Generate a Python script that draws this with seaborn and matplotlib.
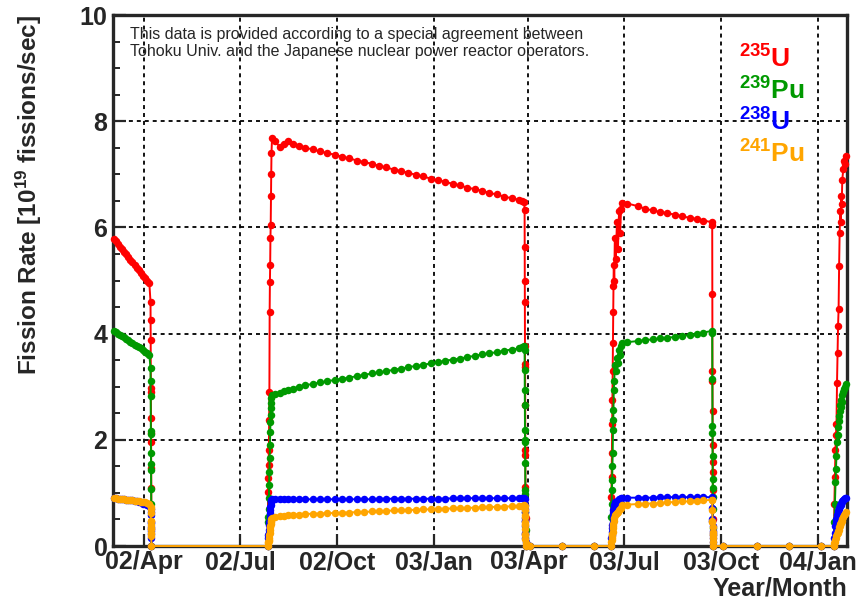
import matplotlib
matplotlib.use('Agg')
import matplotlib.pyplot as plt
import matplotlib.dates as mdates
from matplotlib.ticker import AutoMinorLocator, MultipleLocator
import pandas as pd
import seaborn as sns

# Fission rates per isotope [10^19 fissions/sec]
# cycle 1 (end of run), shutdown, cycle 2 startup / run / shutdown,
# zero readings, cycle 3, zero readings, cycle 4 startup
dates = [
    # cycle 1
    '2002-03-03', '2002-03-05', '2002-03-07', '2002-03-09', '2002-03-11', '2002-03-13',
    '2002-03-15', '2002-03-17', '2002-03-19', '2002-03-21', '2002-03-23', '2002-03-25',
    '2002-03-27', '2002-03-29', '2002-03-31', '2002-04-02', '2002-04-04', '2002-04-06',
    # shutdown 1
    '2002-04-07 03:00', '2002-04-07 05:00', '2002-04-07 07:00', '2002-04-07 09:00',
    '2002-04-07 11:00', '2002-04-07 13:00', '2002-04-07 15:00', '2002-04-07 17:00',
    '2002-04-07 19:00', '2002-04-07 21:00', '2002-04-08 00:00',
    # startup 2
    '2002-07-27 12:00', '2002-07-27 18:00', '2002-07-28 00:00', '2002-07-28 06:00',
    '2002-07-28 12:00', '2002-07-28 18:00', '2002-07-29 00:00', '2002-07-29 06:00',
    '2002-07-29 12:00', '2002-07-29 18:00', '2002-07-30 00:00', '2002-07-30 06:00',
    '2002-07-30 12:00', '2002-07-30 18:00', '2002-07-31 00:00', '2002-07-31 12:00',
    '2002-08-03', '2002-08-08', '2002-08-12', '2002-08-16', '2002-08-20', '2002-08-26',
    # cycle 2 run
    '2002-09-01', '2002-09-08', '2002-09-15', '2002-09-22', '2002-09-29', '2002-10-06',
    '2002-10-13', '2002-10-20', '2002-10-27', '2002-11-03', '2002-11-10', '2002-11-17',
    '2002-11-24', '2002-12-01', '2002-12-08', '2002-12-15', '2002-12-22', '2002-12-29',
    '2003-01-05', '2003-01-12', '2003-01-19', '2003-01-26', '2003-02-02', '2003-02-09',
    '2003-02-16', '2003-02-23', '2003-03-02', '2003-03-09', '2003-03-16', '2003-03-23',
    '2003-03-26', '2003-03-28',
    # shutdown 2
    '2003-03-28 08:00', '2003-03-28 10:00', '2003-03-28 12:00', '2003-03-28 14:00',
    '2003-03-28 16:00', '2003-03-28 18:00', '2003-03-28 20:00', '2003-03-28 22:00',
    '2003-03-29 00:00', '2003-03-29 02:00', '2003-03-29 04:00', '2003-03-29 06:00',
    '2003-03-29 08:00',
    # off
    '2003-04-02', '2003-05-03', '2003-06-02',
    # startup 3
    '2003-06-18 12:00', '2003-06-18 18:00', '2003-06-19 00:00', '2003-06-19 06:00',
    '2003-06-19 12:00', '2003-06-19 18:00', '2003-06-20 00:00', '2003-06-20 06:00',
    '2003-06-20 12:00', '2003-06-20 18:00', '2003-06-21 00:00', '2003-06-21 12:00',
    '2003-06-22', '2003-06-23', '2003-06-24', '2003-06-25', '2003-06-26', '2003-06-27',
    '2003-06-28', '2003-06-29',
    # cycle 3 run
    '2003-07-04', '2003-07-14', '2003-07-21', '2003-07-28', '2003-08-04', '2003-08-11',
    '2003-08-18', '2003-08-25', '2003-09-01', '2003-09-08', '2003-09-14', '2003-09-22',
    # shutdown 3
    '2003-09-22 12:00', '2003-09-22 14:00', '2003-09-22 16:00', '2003-09-22 18:00',
    '2003-09-22 20:00', '2003-09-22 22:00', '2003-09-23 00:00', '2003-09-23 02:00',
    '2003-09-23 04:00', '2003-09-23 06:00', '2003-09-23 08:00',
    # off
    '2003-10-03', '2003-11-04', '2003-12-04', '2004-01-04',
    # startup 4
    '2004-01-16 00:00', '2004-01-16 12:00', '2004-01-17 00:00', '2004-01-17 12:00',
    '2004-01-18 00:00', '2004-01-18 12:00', '2004-01-19 00:00', '2004-01-19 12:00',
    '2004-01-20 00:00', '2004-01-20 12:00', '2004-01-21 00:00', '2004-01-21 12:00',
    '2004-01-22 00:00', '2004-01-22 12:00', '2004-01-23 00:00', '2004-01-23 12:00',
    '2004-01-24', '2004-01-25', '2004-01-26', '2004-01-27', '2004-01-28',
]

u235 = [
    5.78, 5.74, 5.69, 5.64, 5.59, 5.54, 5.49, 5.44, 5.39, 5.34, 5.29, 5.24,
    5.19, 5.14, 5.09, 5.04, 4.99, 4.95,
    4.60, 4.26, 3.88, 2.98, 2.90, 2.41, 2.13, 1.96, 1.47, 1.09, 0.00,
    0.00, 1.02, 1.28, 1.53, 1.80, 2.37, 2.90, 4.41, 4.98, 5.29, 5.80, 6.05,
    6.60, 7.00, 7.40, 7.68,
    7.62, 7.52, 7.58, 7.62, 7.58, 7.54,
    7.50, 7.47, 7.43, 7.40, 7.37, 7.33, 7.30, 7.26, 7.23, 7.20, 7.16, 7.13,
    7.09, 7.06, 7.03, 6.99, 6.96, 6.92, 6.89, 6.86, 6.82, 6.79, 6.75, 6.72,
    6.69, 6.65, 6.62, 6.58, 6.55, 6.52, 6.50, 6.48,
    6.33, 5.64, 5.00, 4.60, 3.76, 3.43, 3.37, 2.66, 1.81, 1.71, 1.12, 0.52, 0.00,
    0.00, 0.00, 0.00,
    0.00, 0.93, 1.30, 1.75, 2.30, 2.75, 3.29, 3.82, 4.40, 4.90, 5.30, 5.00,
    5.80, 5.40, 6.10, 5.60, 6.30, 5.90, 6.35, 6.46,
    6.45, 6.40, 6.35, 6.32, 6.29, 6.27, 6.24, 6.21, 6.18, 6.16, 6.13, 6.10,
    6.05, 4.74, 3.30, 3.10, 2.54, 1.90, 1.59, 1.40, 1.05, 0.50, 0.00,
    0.00, 0.00, 0.00, 0.00,
    0.00, 0.80, 1.30, 1.80, 2.10, 2.30, 3.07, 3.64, 4.15, 4.46, 5.28, 5.90,
    6.30, 6.10, 6.60, 6.45, 6.90, 7.10, 7.25, 7.20, 7.35,
]

pu239 = [
    4.05, 4.03, 4.00, 3.98, 3.95, 3.93, 3.90, 3.88, 3.85, 3.82, 3.79, 3.77,
    3.74, 3.72, 3.69, 3.66, 3.63, 3.60,
    3.35, 3.10, 2.82, 2.17, 2.11, 1.76, 1.55, 1.43, 1.07, 0.79, 0.00,
    0.00, 0.45, 0.55, 0.70, 0.90, 1.15, 1.40, 1.65, 1.90, 2.15, 2.34, 2.46,
    2.60, 2.70, 2.78, 2.84,
    2.86, 2.89, 2.92, 2.94, 2.96, 3.00,
    3.03, 3.05, 3.08, 3.10, 3.13, 3.15, 3.17, 3.20, 3.22, 3.25, 3.27, 3.29,
    3.32, 3.34, 3.37, 3.39, 3.41, 3.44, 3.46, 3.49, 3.51, 3.53, 3.56, 3.58,
    3.61, 3.63, 3.65, 3.68, 3.70, 3.72, 3.74, 3.76,
    3.69, 3.31, 2.94, 2.66, 2.18, 1.99, 1.96, 1.56, 1.05, 0.98, 0.64, 0.30, 0.00,
    0.00, 0.00, 0.00,
    0.00, 0.55, 0.80, 1.06, 1.25, 1.50, 1.75, 2.19, 2.38, 2.57, 2.94, 3.10,
    3.40, 3.30, 3.55, 3.45, 3.70, 3.60, 3.76, 3.83,
    3.84, 3.86, 3.88, 3.89, 3.91, 3.92, 3.94, 3.96, 3.97, 3.99, 4.02, 4.05,
    4.02, 3.14, 2.26, 2.13, 1.69, 1.26, 1.09, 0.93, 0.70, 0.33, 0.00,
    0.00, 0.00, 0.00, 0.00,
    0.00, 0.45, 0.80, 1.20, 1.45, 1.70, 1.95, 2.10, 2.25, 2.35, 2.45, 2.55,
    2.65, 2.62, 2.75, 2.72, 2.85, 2.90, 2.95, 3.00, 3.05,
]

u238 = [
    0.90, 0.90, 0.89, 0.89, 0.88, 0.88, 0.87, 0.87, 0.86, 0.86, 0.85, 0.85,
    0.83, 0.82, 0.80, 0.79, 0.77, 0.75,
    0.69, 0.64, 0.58, 0.45, 0.43, 0.36, 0.32, 0.29, 0.22, 0.16, 0.00,
    0.00, 0.15, 0.20, 0.25, 0.30, 0.40, 0.45, 0.55, 0.62, 0.68, 0.74, 0.78,
    0.82, 0.85, 0.87, 0.88,
    0.88, 0.88, 0.88, 0.88, 0.88, 0.88,
    0.88, 0.88, 0.88, 0.88, 0.88, 0.88, 0.88, 0.88, 0.88, 0.88, 0.89, 0.89,
    0.89, 0.89, 0.89, 0.89, 0.89, 0.89, 0.89, 0.89, 0.90, 0.90, 0.90, 0.90,
    0.90, 0.90, 0.90, 0.90, 0.90, 0.90, 0.90, 0.90,
    0.88, 0.78, 0.69, 0.64, 0.52, 0.48, 0.47, 0.37, 0.25, 0.23, 0.15, 0.07, 0.00,
    0.00, 0.00, 0.00,
    0.00, 0.15, 0.20, 0.27, 0.33, 0.40, 0.46, 0.55, 0.62, 0.68, 0.74, 0.78,
    0.82, 0.80, 0.85, 0.84, 0.88, 0.87, 0.90, 0.91,
    0.91, 0.91, 0.91, 0.91, 0.92, 0.92, 0.92, 0.92, 0.92, 0.92, 0.92, 0.92,
    0.91, 0.71, 0.51, 0.48, 0.38, 0.28, 0.24, 0.21, 0.16, 0.07, 0.00,
    0.00, 0.00, 0.00, 0.00,
    0.00, 0.15, 0.25, 0.38, 0.45, 0.50, 0.58, 0.62, 0.66, 0.70, 0.72, 0.75,
    0.78, 0.78, 0.81, 0.82, 0.85, 0.87, 0.89, 0.90, 0.90,
]

pu241 = [
    0.90, 0.90, 0.89, 0.89, 0.88, 0.88, 0.87, 0.87, 0.86, 0.86, 0.85, 0.85,
    0.84, 0.83, 0.83, 0.82, 0.81, 0.80,
    0.74, 0.69, 0.62, 0.48, 0.47, 0.39, 0.34, 0.32, 0.24, 0.18, 0.00,
    0.00, 0.05, 0.08, 0.10, 0.12, 0.16, 0.20, 0.25, 0.30, 0.35, 0.38, 0.42,
    0.45, 0.48, 0.51, 0.53,
    0.54, 0.56, 0.57, 0.58, 0.59, 0.59,
    0.60, 0.61, 0.61, 0.62, 0.62, 0.63, 0.63, 0.64, 0.64, 0.65, 0.65, 0.66,
    0.67, 0.67, 0.68, 0.68, 0.69, 0.69, 0.70, 0.70, 0.71, 0.71, 0.72, 0.72,
    0.73, 0.73, 0.74, 0.74, 0.75, 0.75, 0.76, 0.77,
    0.75, 0.67, 0.59, 0.55, 0.45, 0.41, 0.40, 0.32, 0.22, 0.20, 0.13, 0.06, 0.00,
    0.00, 0.00, 0.00,
    0.00, 0.08, 0.12, 0.15, 0.19, 0.23, 0.27, 0.33, 0.38, 0.42, 0.48, 0.52,
    0.58, 0.60, 0.63, 0.64, 0.68, 0.70, 0.72, 0.77,
    0.78, 0.79, 0.80, 0.80, 0.81, 0.82, 0.83, 0.84, 0.84, 0.85, 0.86, 0.87,
    0.86, 0.67, 0.48, 0.45, 0.36, 0.27, 0.23, 0.20, 0.15, 0.07, 0.00,
    0.00, 0.00, 0.00, 0.00,
    0.00, 0.05, 0.08, 0.12, 0.15, 0.18, 0.22, 0.25, 0.28, 0.31, 0.35, 0.38,
    0.41, 0.43, 0.46, 0.48, 0.51, 0.55, 0.58, 0.61, 0.64,
]

isotopes = ['235U', '239Pu', '238U', '241Pu']
labels = ['$^{235}$U', '$^{239}$Pu', '$^{238}$U', '$^{241}$Pu']
colors = ['#ff0000', '#009900', '#0000ff', '#ffa500']

sns.set_style('ticks')
plt.rcParams['font.family'] = ['Liberation Sans', 'DejaVu Sans']
plt.rcParams['font.weight'] = 'bold'
plt.rcParams['mathtext.fontset'] = 'custom'
plt.rcParams['mathtext.rm'] = 'Liberation Sans:bold'
plt.rcParams['mathtext.default'] = 'rm'

# long-form table for seaborn
when = pd.to_datetime(dates, format='mixed')
frames = []
for name, vals in zip(isotopes, [u235, pu239, u238, pu241]):
    frames.append(pd.DataFrame({'date': when, 'rate': vals, 'isotope': name}))
df = pd.concat(frames, ignore_index=True)

fig = plt.figure(figsize=(8.58, 6.01), dpi=100)
ax = fig.add_axes([0.1317, 0.0915, 0.8555, 0.8835])

sns.lineplot(data=df, x='date', y='rate', hue='isotope', hue_order=isotopes,
             palette=colors, sort=False, estimator=None, legend=False, ax=ax,
             marker='o', markersize=5.4, markeredgewidth=0, linewidth=1.4,
             zorder=3, clip_on=False)

ax.set_xlim(pd.Timestamp('2002-03-02 12:00'), pd.Timestamp('2004-01-28 12:00'))
ax.set_ylim(0, 10)

ax.xaxis.set_major_locator(mdates.MonthLocator(bymonth=[1, 4, 7, 10]))
ax.xaxis.set_major_formatter(mdates.DateFormatter('%y/%b'))
ax.yaxis.set_major_locator(MultipleLocator(2))
ax.yaxis.set_minor_locator(AutoMinorLocator(4))

ax.grid(True, which='major', color='black', linestyle=(0, (2.2, 2.2)), linewidth=1.3)
ax.set_axisbelow(True)

ax.tick_params(axis='both', which='major', direction='in', length=9, width=1.6,
               labelsize=18, top=False, right=False)
ax.tick_params(axis='y', which='minor', direction='in', length=5, width=1.4)
ax.tick_params(axis='x', which='major', pad=3)
ax.tick_params(axis='y', which='major', pad=4)
for s in ax.spines.values():
    s.set_linewidth(2.4)
    s.set_visible(True)

ax.set_ylabel('Fission Rate [10$^{19}$ fissions/sec]', fontsize=17.5, fontweight='bold', loc='top')
ax.yaxis.set_label_coords(-0.094, 1.0)
ax.set_xlabel('Year/Month', fontsize=18, fontweight='bold', loc='right')
ax.xaxis.set_label_coords(1.0, -0.058)

ax.text(0.023, 0.978,
        'This data is provided according to a special agreement between\n'
        'Tohoku Univ. and the Japanese nuclear power reactor operators.',
        transform=ax.transAxes, fontsize=11.5, fontweight='normal', va='top', ha='left',
        linespacing=1.2)

for i, (lab, col) in enumerate(zip(labels, colors)):
    fig.text(739 / 858, 1 - (68 + 31.5 * i) / 601, lab, color=col, fontsize=19,
             fontweight='bold', ha='left', va='baseline')

fig.savefig('out.png', dpi=100)
